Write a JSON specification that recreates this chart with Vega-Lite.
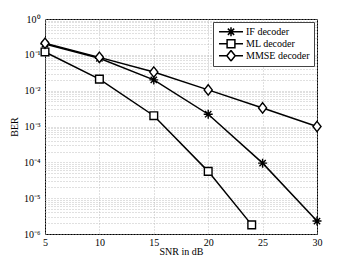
{
  "$schema": "https://vega.github.io/schema/vega-lite/v6.json",
  "width": 272,
  "height": 215,
  "autosize": "none",
  "padding": {"left": 45, "top": 19, "right": 33, "bottom": 29},
  "background": "white",
  "config": {
    "view": {"stroke": "black", "strokeWidth": 1},
    "font": "Liberation Serif",
    "axis": {
      "labelFont": "Liberation Serif",
      "titleFont": "Liberation Serif",
      "labelFontSize": 10,
      "titleFontSize": 10,
      "titleFontWeight": "normal",
      "labelColor": "black",
      "titleColor": "black",
      "domain": false,
      "ticks": false,
      "gridColor": "#b0b0b0",
      "gridDash": [1, 2],
      "gridWidth": 0.8
    },
    "legend": {
      "labelFont": "Liberation Serif",
      "labelFontSize": 10,
      "labelColor": "black"
    }
  },
  "resolve": {"scale": {"shape": "independent"}, "legend": {"shape": "independent"}},
  "data": {
    "values": [
      {"snr": 5, "ber": 0.2, "decoder": "IF decoder"},
      {"snr": 10, "ber": 0.08, "decoder": "IF decoder"},
      {"snr": 15, "ber": 0.02, "decoder": "IF decoder"},
      {"snr": 20, "ber": 0.0022, "decoder": "IF decoder"},
      {"snr": 25, "ber": 0.000095, "decoder": "IF decoder"},
      {"snr": 30, "ber": 0.0000023, "decoder": "IF decoder"},
      {"snr": 5, "ber": 0.12, "decoder": "ML decoder"},
      {"snr": 10, "ber": 0.021, "decoder": "ML decoder"},
      {"snr": 15, "ber": 0.002, "decoder": "ML decoder"},
      {"snr": 20, "ber": 0.000056, "decoder": "ML decoder"},
      {"snr": 24, "ber": 0.0000018, "decoder": "ML decoder"},
      {"snr": 5, "ber": 0.21, "decoder": "MMSE decoder"},
      {"snr": 10, "ber": 0.085, "decoder": "MMSE decoder"},
      {"snr": 15, "ber": 0.033, "decoder": "MMSE decoder"},
      {"snr": 20, "ber": 0.0105, "decoder": "MMSE decoder"},
      {"snr": 25, "ber": 0.0033, "decoder": "MMSE decoder"},
      {"snr": 30, "ber": 0.001, "decoder": "MMSE decoder"}
    ]
  },
  "encoding": {
    "x": {
      "field": "snr",
      "type": "quantitative",
      "title": "SNR in dB",
      "scale": {"domain": [5, 30], "nice": false, "zero": false},
      "axis": {"values": [5, 10, 15, 20, 25, 30], "labelPadding": 3, "titlePadding": -1, "labelFlush": false}
    },
    "y": {
      "field": "ber",
      "type": "quantitative",
      "title": "BER",
      "scale": {"type": "log", "domain": [0.000001, 1], "nice": false},
      "axis": {
        "values": [0.000001,0.000002,0.000003,0.000004,0.000005,0.000006,0.000007,0.000008,0.000009,
                   0.00001,0.00002,0.00003,0.00004,0.00005,0.00006,0.00007,0.00008,0.00009,
                   0.0001,0.0002,0.0003,0.0004,0.0005,0.0006,0.0007,0.0008,0.0009,
                   0.001,0.002,0.003,0.004,0.005,0.006,0.007,0.008,0.009,
                   0.01,0.02,0.03,0.04,0.05,0.06,0.07,0.08,0.09,
                   0.1,0.2,0.3,0.4,0.5,0.6,0.7,0.8,0.9,1],
        "labelExpr": "abs(log(datum.value)/LN10 - round(log(datum.value)/LN10)) < 0.001 ? ['10⁰','10⁻¹','10⁻²','10⁻³','10⁻⁴','10⁻⁵','10⁻⁶'][-round(log(datum.value)/LN10)] : ''",
        "labelOverlap": false,
        "labelPadding": 5,
        "labelFlush": false,
        "titlePadding": 4
      }
    }
  },
  "layer": [
    {
      "mark": {"type": "line", "color": "black", "strokeWidth": 1.5},
      "encoding": {"detail": {"field": "decoder"}}
    },
    {
      "mark": {"type": "point", "filled": true, "fill": "white", "stroke": "black", "strokeWidth": 1.4, "opacity": 1, "size": 81},
      "encoding": {
        "shape": {
          "field": "decoder",
          "type": "nominal",
          "scale": {
            "domain": ["IF decoder", "ML decoder", "MMSE decoder"],
            "range": [
              "M-1,0H1M0,-1V1M-0.7,-0.7L0.7,0.7M-0.7,0.7L0.7,-0.7",
              "M-0.85,-0.85H0.85V0.85H-0.85Z",
              "M0,-1.15L0.9,0L0,1.15L-0.9,0Z"
            ]
          },
          "legend": null
        }
      }
    },
    {
      "transform": [{"filter": "datum.snr < 0"}],
      "mark": {"type": "point", "filled": true, "fill": "white", "stroke": "black", "strokeWidth": 1.4, "opacity": 1, "size": 36},
      "encoding": {
        "shape": {
          "field": "decoder",
          "type": "nominal",
          "scale": {
            "domain": ["IF decoder", "ML decoder", "MMSE decoder"],
            "range": [
              "M-4,0H4M0,-1.5V1.5M-1.05,-1.05L1.05,1.05M-1.05,1.05L1.05,-1.05",
              "M-4,0H-1.3M1.3,0H4M-1.3,-1.3H1.3V1.3H-1.3Z",
              "M-4,0H-1.4M1.4,0H4M0,-1.75L1.4,0L0,1.75L-1.4,0Z"
            ]
          },
          "legend": {
            "title": null,
            "orient": "top-right",
            "offset": 3,
            "fillColor": "white",
            "strokeColor": "#444",
            "padding": 4,
            "symbolSize": 36,
            "symbolOffset": 9,
            "labelOffset": 10,
            "rowPadding": 0,
            "clipHeight": 11.5
          }
        }
      }
    }
  ]
}
